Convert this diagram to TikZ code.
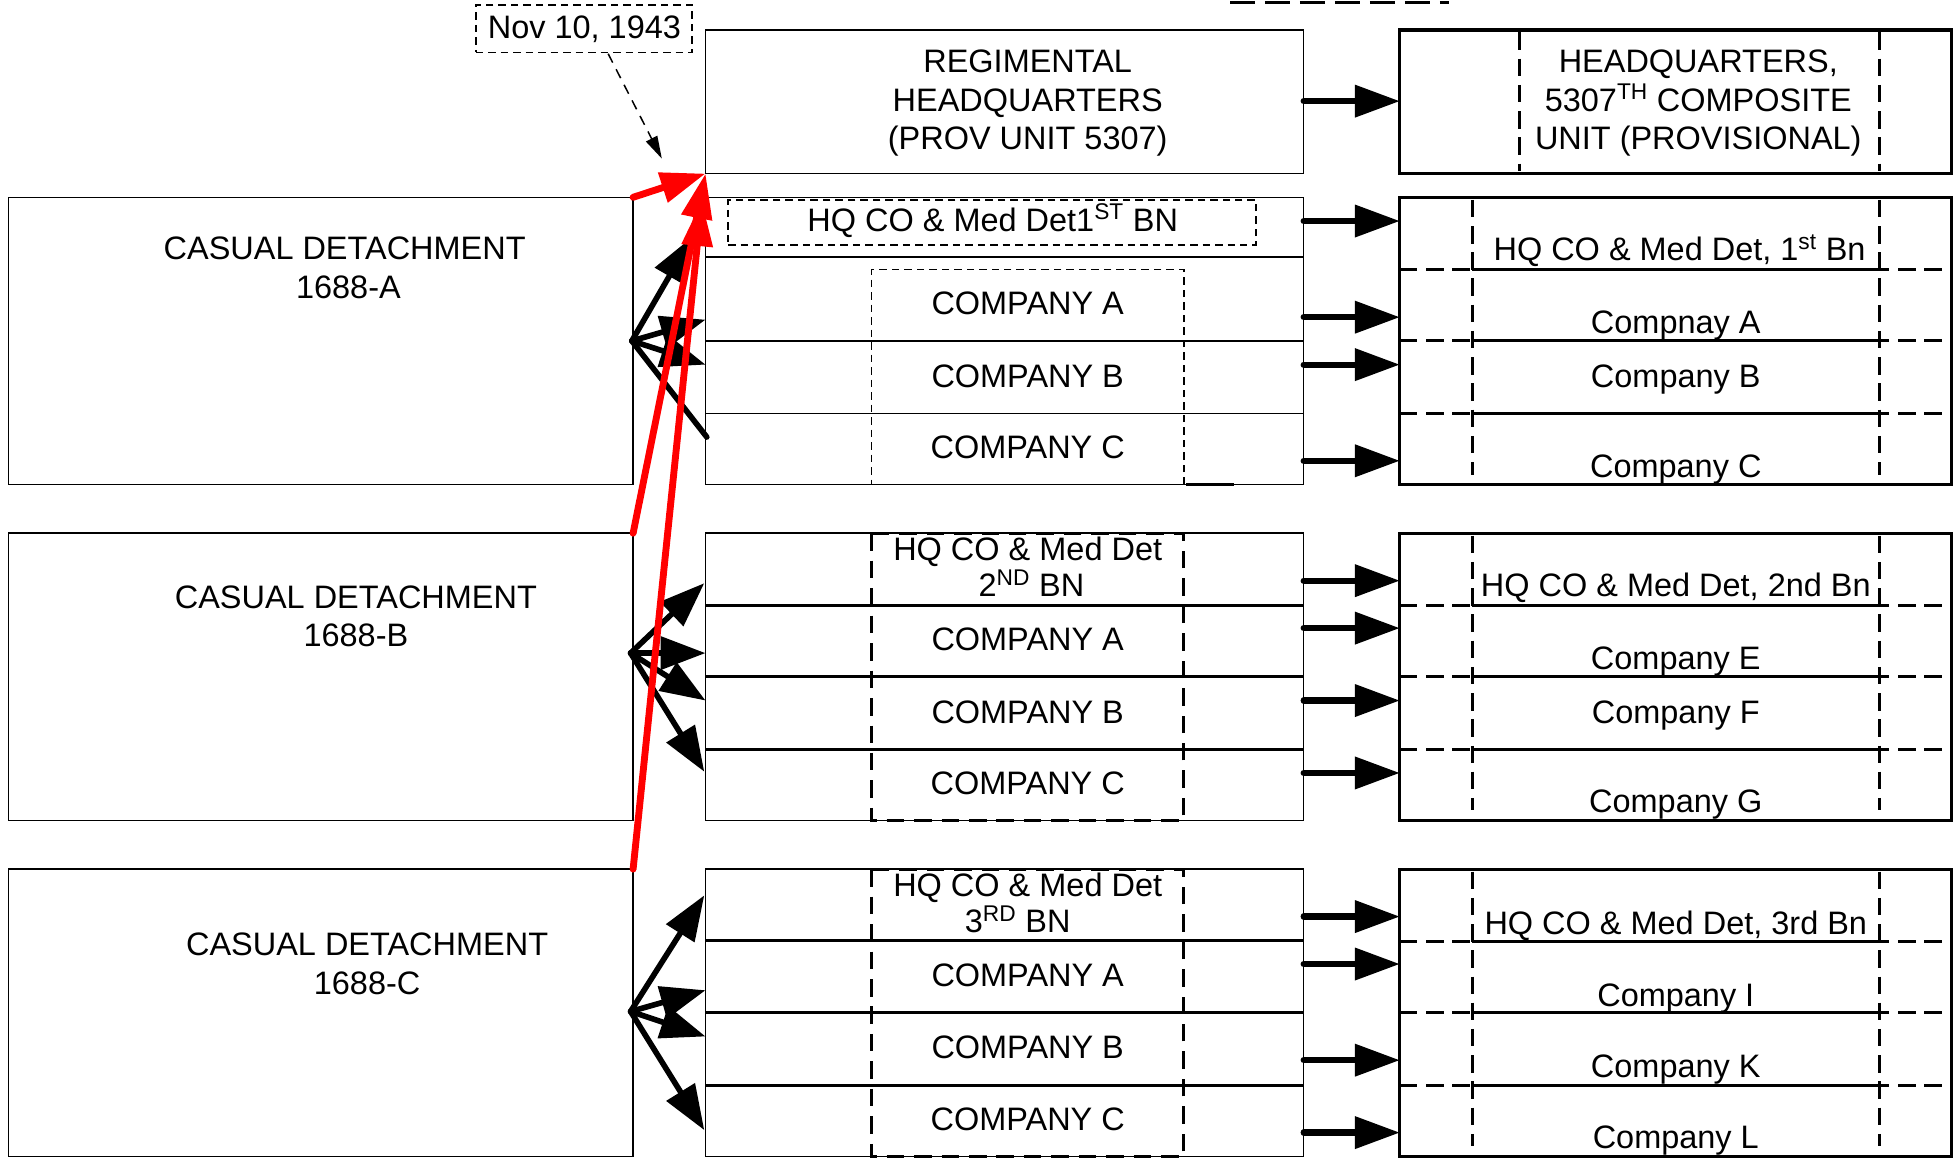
\documentclass[tikz,border=0pt]{standalone}
\usepackage{fontspec}
\setmainfont{Liberation Sans}
\usetikzlibrary{arrows.meta}
\begin{document}
\begin{tikzpicture}[x=1pt,y=-1pt,
  box/.style={draw, line width=1.2pt, anchor=north west, inner sep=0pt, outer sep=0pt},
  thickbox/.style={box, line width=2.6pt},
  dbox/.style={box, dash pattern=on 6pt off 4pt},
  txt/.style={anchor=base, inner sep=0pt, font=\fontsize{26}{31}\selectfont},
  rowthin/.style={line width=1.2pt},
  rowthick/.style={line width=2.4pt},
  mdash/.style={line width=2.6pt, dash pattern=on 14pt off 8pt},
  rdash/.style={line width=2.4pt, dash pattern=on 14pt off 7pt},
  rsolid/.style={line width=2.4pt},
  harrow/.style={line width=5pt, line cap=round, -{Triangle[length=36pt,width=25pt]}},
  fan/.style={line width=4.5pt, line cap=round, -{Triangle[length=36pt,width=26pt]}},
  fanplain/.style={line width=4.5pt, line cap=round},
  redarrow/.style={red, line width=5.5pt, line cap=round, -{Triangle[length=36pt,width=24pt]}},
  notearrow/.style={line width=1.2pt, dash pattern=on 8pt off 6pt, -{Triangle[length=18pt,width=10pt]}}
]
\useasboundingbox (0,0) rectangle (1568,927);

% ---------- top dashed fragment ----------
\coordinate (tl1) at (985,2);
\coordinate (tl2) at (1160,2);
\draw[line width=3pt, dash pattern=on 20pt off 8pt] (tl1) -- (tl2);

% ---------- date note ----------
\node[dbox, minimum width=173pt, minimum height=38pt] (nov) at (381,4) {};
\node[txt] (novt) at (468,31) {Nov 10, 1943};

% ---------- regimental HQ ----------
\node[box, minimum width=479pt, minimum height=115pt] (reg) at (565,24) {};
\node[txt] (reg1) at (823,58) {REGIMENTAL};
\node[txt] (reg2) at (823,89) {HEADQUARTERS};
\node[txt] (reg3) at (823,120) {(PROV UNIT 5307)};

% ---------- right HQ ----------
\node[thickbox, minimum width=442pt, minimum height=115pt] (hqr) at (1121,24) {};
\draw[rdash] (1217,26) -- (1217,137);
\draw[rdash] (1505,26) -- (1505,137);
\node[txt] (hqr1) at (1360,58) {HEADQUARTERS,};
\node[txt] (hqr2) at (1360,89) {5307\textsuperscript{TH} COMPOSITE};
\node[txt] (hqr3) at (1360,120) {UNIT (PROVISIONAL)};

% ---------- casual detachments ----------
\node[box, minimum width=500pt, minimum height=230pt] (casA) at (7,158) {};
\node[box, minimum width=500pt, minimum height=230pt] (casB) at (7,427) {};
\node[box, minimum width=500pt, minimum height=230pt] (casC) at (7,696) {};
\node[txt] (casA1) at (276,208) {CASUAL DETACHMENT};
\node[txt] (casA2) at (279,239) {1688-A};
\node[txt] (casB1) at (285,487) {CASUAL DETACHMENT};
\node[txt] (casB2) at (285,518) {1688-B};
\node[txt] (casC1) at (294,765) {CASUAL DETACHMENT};
\node[txt] (casC2) at (294,796) {1688-C};

% ---------- middle battalion 1 ----------
\node[box, minimum width=479pt, minimum height=230pt] (m1) at (565,158) {};
\draw[rowthin] (565,206) -- (1044,206);
\draw[rowthin] (565,273) -- (1044,273);
\draw[rowthin] (565,331) -- (1044,331);
\node[dbox, minimum width=423pt, minimum height=36pt] (m1hq) at (583,160) {};
\node[dbox, minimum width=250pt, minimum height=172pt] (m1co) at (698,216) {};
\draw[line width=2pt] (950,388) -- (988,388);
\node[txt] (m1t0) at (795,185) {HQ CO \& Med Det1\textsuperscript{ST} BN};
\node[txt] (m1t1) at (823,252) {COMPANY A};
\node[txt] (m1t2) at (823,310) {COMPANY B};
\node[txt] (m1t3) at (823,367) {COMPANY C};

% ---------- middle battalion 2 ----------
\node[box, minimum width=479pt, minimum height=230pt] (m2) at (565,427) {};
\draw[rowthick] (565,485) -- (1044,485);
\draw[rowthick] (565,542) -- (1044,542);
\draw[rowthick] (565,600) -- (1044,600);
\draw[mdash] (698,427) rectangle (948,657);
\node[txt] (m2t0) at (823,449) {HQ CO \& Med Det};
\node[txt] (m2t0b) at (826,478) {2\textsuperscript{ND} BN};
\node[txt] (m2t1) at (823,521) {COMPANY A};
\node[txt] (m2t2) at (823,579) {COMPANY B};
\node[txt] (m2t3) at (823,636) {COMPANY C};

% ---------- middle battalion 3 ----------
\node[box, minimum width=479pt, minimum height=230pt] (m3) at (565,696) {};
\draw[rowthick] (565,753) -- (1044,753);
\draw[rowthick] (565,811) -- (1044,811);
\draw[rowthick] (565,869) -- (1044,869);
\draw[mdash] (698,696) rectangle (948,926);
\node[txt] (m3t0) at (823,718) {HQ CO \& Med Det};
\node[txt] (m3t0b) at (815,747) {3\textsuperscript{RD} BN};
\node[txt] (m3t1) at (823,790) {COMPANY A};
\node[txt] (m3t2) at (823,848) {COMPANY B};
\node[txt] (m3t3) at (823,905) {COMPANY C};

% ---------- right battalion boxes ----------
\foreach \t/\n in {158/r1,427/r2,696/r3}{
  \node[thickbox, minimum width=442pt, minimum height=230pt] (\n) at (1121,\t) {};
  \draw[rdash] (1179,\t+2) -- (1179,\t+222);
  \draw[rdash] (1505,\t+2) -- (1505,\t+222);
  \foreach \d in {58,115,173}{
    \draw[rdash] (1121,\t+\d) -- (1563,\t+\d);
    \draw[rsolid] (1179,\t+\d) -- (1505,\t+\d);
  }
}
\node[txt] (r1t0) at (1345,209) {HQ CO \& Med Det, 1\textsuperscript{st} Bn};
\node[txt] (r1t1) at (1342,267) {Compnay A};
\node[txt] (r1t2) at (1342,310) {Company B};
\node[txt] (r1t3) at (1342,382) {Company C};
\node[txt] (r2t0) at (1342,478) {HQ CO \& Med Det, 2nd Bn};
\node[txt] (r2t1) at (1342,536) {Company E};
\node[txt] (r2t2) at (1342,579) {Company F};
\node[txt] (r2t3) at (1342,651) {Company G};
\node[txt] (r3t0) at (1342,748) {HQ CO \& Med Det, 3rd Bn};
\node[txt] (r3t1) at (1342,806) {Company I};
\node[txt] (r3t2) at (1342,863) {Company K};
\node[txt] (r3t3) at (1342,920) {Company L};

% ---------- horizontal arrows middle -> right ----------
\foreach \y [count=\i] in {81,177,254,292,369,465,503,561,619,734,772,849,907}{
  \coordinate (hs\i) at (1044,\y);
  \coordinate (he\i) at (1121,\y);
  \draw[harrow] (hs\i) -- (he\i);
}

% ---------- fan arrows ----------
\coordinate (oA) at (506,273);
\coordinate (oB) at (505,523);
\coordinate (oC) at (505,810);
\coordinate (tA0) at (554,190);
\coordinate (tA1) at (565,256);
\coordinate (tA2) at (565,292);
\coordinate (tA3) at (566,350);
\coordinate (tB0) at (564,467);
\coordinate (tB1) at (565,523);
\coordinate (tB2) at (565,561);
\coordinate (tB3) at (564,618);
\coordinate (tC0) at (564,717);
\coordinate (tC1) at (565,793);
\coordinate (tC2) at (565,830);
\coordinate (tC3) at (564,905);
\draw[fan] (oA) -- (tA0);
\draw[fan] (oA) -- (tA1);
\draw[fan] (oA) -- (tA2);
\draw[fanplain] (oA) -- (tA3);
\draw[fan] (oB) -- (tB0);
\draw[fan] (oB) -- (tB1);
\draw[fan] (oB) -- (tB2);
\draw[fan] (oB) -- (tB3);
\draw[fan] (oC) -- (tC0);
\draw[fan] (oC) -- (tC1);
\draw[fan] (oC) -- (tC2);
\draw[fan] (oC) -- (tC3);

% ---------- red arrows ----------
\coordinate (m1top) at (562,161);
\draw[redarrow] (casA.north east) -- (reg.south west);
\draw[redarrow] (casB.north east) -- (reg.south west);
\draw[redarrow] (casC.north east) -- (m1top);

% ---------- note arrow ----------
\coordinate (ne) at (530,127);
\draw[notearrow] (487,43) -- (ne);
\end{tikzpicture}
\end{document}
